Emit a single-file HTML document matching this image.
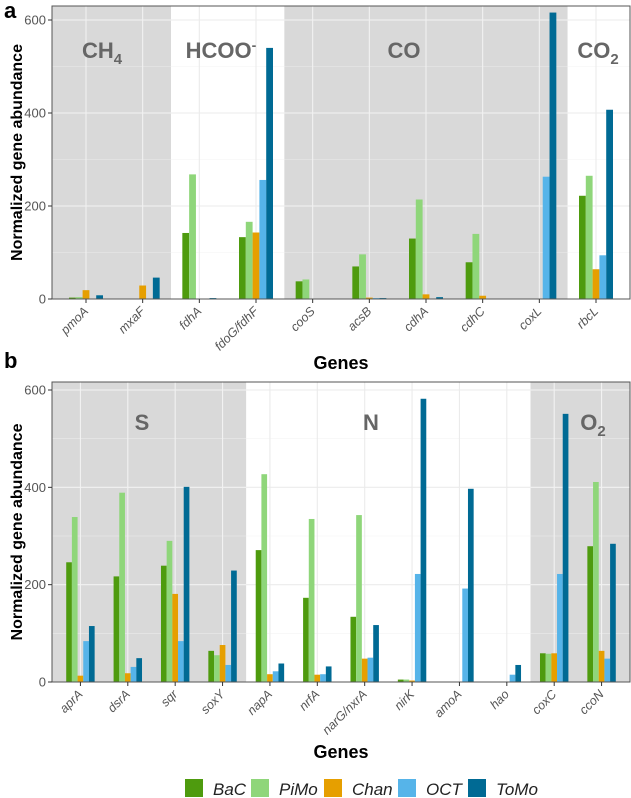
<!DOCTYPE html>
<html><head><meta charset="utf-8"><style>
body{margin:0;background:#fff}
svg{display:block;font-family:"Liberation Sans",Arial,sans-serif}
</style></head><body>
<svg id="chart" width="631" height="798"></svg>
<script>
const series = ["BaC","PiMo","Chan","OCT","ToMo"];
const colors = ["#4e9b0e","#8fd67a","#e69f00","#56b4e9","#006a94"];
const genesA = ["pmoA","mxaF","fdhA","fdoG/fdhF","cooS","acsB","cdhA","cdhC","coxL","rbcL"];
const bacA  = [3,0,142,133,38,70,130,79,0,222];
const pimoA = [4,0,268,166,42,96,214,140,0,265];
const chanA = [19,29,0,143,1,3,10,7,0,64];
const octA  = [0,0,0,256,0,2,0,0,263,94];
const tomoA = [8,46,2,540,0,2,4,0,616,407];
const genesB = ["aprA","dsrA","sqr","soxY","napA","nrfA","narG/nxrA","nirK","amoA","hao","coxC","ccoN"];
const bacB  = [246,217,239,64,271,173,134,5,1,1,59,279];
const pimoB = [339,389,290,55,427,335,343,5,0,0,58,411];
const chanB = [13,18,181,76,16,15,48,3,0,0,59,64];
const octB  = [84,31,84,35,22,16,50,222,192,15,222,48];
const tomoB = [115,49,401,229,38,32,117,582,397,35,551,284];
const yTicks = [0,200,400,600];
const NS="http://www.w3.org/2000/svg";
const svg=document.getElementById('chart');
function mk(tag,attrs,parent){const e=document.createElementNS(NS,tag);for(const k in attrs)e.setAttribute(k,attrs[k]);(parent||svg).appendChild(e);return e;}

function panel(opt){
  const {genes,data,left,right,top,y0,y600,groups,name}=opt;
  const g=mk('g',{});
  
  
  const n=genes.length;
  const unit=(right-left)/(n+0.2);
  const x=i=>left+(i+0.6)*unit;
  const y=v=>y0-(v/600)*(y0-y600);
  groups.forEach(gr=>{
    const x1=gr.from<0?left:left+(gr.from+0.6)*unit, x2=gr.to>=n?right:left+(gr.to+0.6)*unit;
    const r=mk('rect',{x:x1,y:top,width:x2-x1,height:y0-top,fill:gr.gray?'#d9d9d9':'#ffffff'},g);
    
    
  });
  [100,300,500].forEach(v=>{groups.forEach(gr=>{const x1=gr.from<0?left:left+(gr.from+0.6)*unit, x2=gr.to>=n?right:left+(gr.to+0.6)*unit;
    mk('line',{x1:x1,x2:x2,y1:y(v),y2:y(v),stroke:gr.gray?'#ececec':'#f4f4f4','stroke-width':0.6},g);});});
  yTicks.forEach(v=>{groups.forEach(gr=>{const x1=gr.from<0?left:left+(gr.from+0.6)*unit, x2=gr.to>=n?right:left+(gr.to+0.6)*unit;
    mk('line',{x1:x1,x2:x2,y1:y(v),y2:y(v),stroke:gr.gray?'#f2f2f2':'#ebebeb','stroke-width':1.1},g);});});
  genes.forEach((gn,i)=>{
    const gray=groups.find(gr=>i>gr.from&&i<gr.to).gray;
    mk('line',{x1:x(i),x2:x(i),y1:top,y2:y0,stroke:gray?'#f2f2f2':'#ebebeb','stroke-width':1.1},g);
  });
  groups.forEach(gr=>{
    const t=mk('text',{x:gr.lx,y:gr.ly,'font-size':22,'font-weight':'bold',fill:'#666','text-anchor':'middle'},g);
    t.innerHTML=gr.label;
    
    
  });
  const bw=unit*0.12;
  genes.forEach((gn,i)=>{
    data.forEach((arr,s)=>{
      const v=arr[i]; if(v<=0)return;
      const r=mk('rect',{x:x(i)-2.5*bw+s*bw,y:y(v),width:bw,height:y0-y(v),fill:colors[s]},g);
      
      
    });
  });
  mk('rect',{x:left,y:top,width:right-left,height:y0-top,fill:'none',stroke:'#555','stroke-width':1},g);
  yTicks.forEach(v=>{
    mk('line',{x1:left-4,x2:left,y1:y(v),y2:y(v),stroke:'#333'},g);
    const t=mk('text',{x:left-6,y:y(v)+4.5,'font-size':13,fill:'#555','text-anchor':'end'},g);
    t.textContent=v;
    
    
  });
  genes.forEach((gn,i)=>{
    mk('line',{x1:x(i),x2:x(i),y1:y0,y2:y0+4,stroke:'#333'},g);
    const t=mk('text',{x:x(i)+3,y:y0+13,'font-size':12.5,fill:'#555','font-style':'italic','text-anchor':'end',transform:`rotate(-45 ${x(i)+3} ${y0+13})`},g);
    t.textContent=gn;
    
    
  });
  const yt=mk('text',{x:0,y:0,'font-size':16,'font-weight':'bold','text-anchor':'middle',fill:'#000',transform:`translate(22 ${(top+y0)/2}) rotate(-90)`},g);
  yt.textContent='Normalized gene abundance';
  
  
  const xt=mk('text',{x:(left+right)/2,y:opt.gy,'font-size':18,'font-weight':'bold','text-anchor':'middle',fill:'#000'},g);
  xt.textContent='Genes';
  
  
}

panel({name:'panel-a',genes:genesA,data:[bacA,pimoA,chanA,octA,tomoA],left:52,right:630,top:6,y0:299,y600:20,gy:369,
  groups:[{key:'ch4',from:-1,to:1.5,gray:true,lx:102,ly:58,label:'CH<tspan font-size="15" dy="6">4</tspan>'},
          {key:'hcoo',from:1.5,to:3.5,gray:false,lx:221,ly:58,label:'HCOO<tspan font-size="14" dy="-8">-</tspan>'},
          {key:'co',from:3.5,to:8.5,gray:true,lx:404,ly:58,label:'CO'},
          {key:'co2',from:8.5,to:99,gray:false,lx:598,ly:58,label:'CO<tspan font-size="15" dy="6">2</tspan>'}]});
panel({name:'panel-b',genes:genesB,data:[bacB,pimoB,chanB,octB,tomoB],left:52,right:630,top:382,y0:682,y600:390,gy:758,
  groups:[{key:'s',from:-1,to:3.5,gray:true,lx:142,ly:430,label:'S'},
          {key:'n',from:3.5,to:9.5,gray:false,lx:371,ly:430,label:'N'},
          {key:'o2',from:9.5,to:99,gray:true,lx:593,ly:430,label:'O<tspan font-size="15" dy="6">2</tspan>'}]});

[['a',4,18],['b',4,368]].forEach(([l,xx,yy])=>{
  const t=mk('text',{x:xx,y:yy,'font-size':22,'font-weight':'bold',fill:'#000'});
  t.textContent=l;
  
  
});

const legX=[185,251,324,398,468];
series.forEach((s,i)=>{
  const r=mk('rect',{x:legX[i],y:779,width:18,height:18,fill:colors[i]});
  
  
  const t=mk('text',{x:legX[i]+28,y:795,'font-size':17,'font-style':'italic',fill:'#222'});
  t.textContent=s;
  
  
});
</script>
</body></html>
